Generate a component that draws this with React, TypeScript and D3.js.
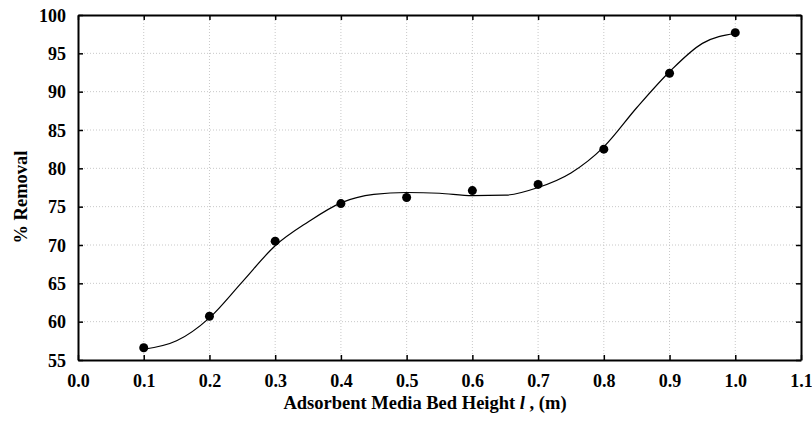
import React, { useEffect, useRef } from "react";
import * as d3 from "d3";

const heights = [0.1, 0.2, 0.3, 0.4, 0.5, 0.6, 0.7, 0.8, 0.9, 1.0];
const removal = [56.6, 60.7, 70.5, 75.4, 76.2, 77.1, 77.9, 82.5, 92.4, 97.7];

// fitted curve
const fitX = [0.1, 0.15, 0.2, 0.25, 0.3, 0.35, 0.4, 0.45, 0.5, 0.55, 0.6, 0.65, 0.7, 0.75, 0.8, 0.85, 0.9, 0.95, 1.0];
const fitY = [56.4, 57.5, 60.5, 65.2, 69.9, 73.0, 75.5, 76.6, 76.85, 76.75, 76.45, 76.5, 77.5, 79.4, 82.8, 87.9, 92.6, 96.3, 97.6];

const xTicks = [0, 0.1, 0.2, 0.3, 0.4, 0.5, 0.6, 0.7, 0.8, 0.9, 1.0, 1.1];
const yTicks = [55, 60, 65, 70, 75, 80, 85, 90, 95, 100];

export default function App() {
  const svgRef = useRef<SVGSVGElement>(null);

  useEffect(() => {
    const w = 812, h = 427;
    const m = { left: 78, right: 11, top: 15, bottom: 67 };
    const svg = d3.select(svgRef.current).attr("width", w).attr("height", h);
    svg.selectAll("*").remove();

    const x = d3.scaleLinear().domain([0, 1.1]).range([m.left, w - m.right]);
    const y = d3.scaleLinear().domain([55, 100]).range([h - m.bottom, m.top]);
    const font = '"Times New Roman", Times, "Liberation Serif", "DejaVu Serif", serif';

    // grid
    const grid = svg.append("g").attr("stroke", "#c8c8c8").attr("stroke-dasharray", "1,2");
    grid.selectAll(".gx").data(xTicks.slice(1, -1)).join("line")
      .attr("x1", d => x(d)).attr("x2", d => x(d))
      .attr("y1", y(55)).attr("y2", y(100));
    grid.selectAll(".gy").data(yTicks.slice(1, -1)).join("line")
      .attr("x1", x(0)).attr("x2", x(1.1))
      .attr("y1", d => y(d)).attr("y2", d => y(d));

    // axes with inward ticks
    const bottom = svg.append("g").attr("transform", `translate(0,${y(55)})`)
      .call(d3.axisBottom(x).tickValues(xTicks).tickSizeInner(-5).tickSizeOuter(0).tickPadding(14).tickFormat(d3.format(".1f")));
    const top = svg.append("g").attr("transform", `translate(0,${y(100)})`)
      .call(d3.axisTop(x).tickValues(xTicks).tickSizeInner(-5).tickSizeOuter(0).tickFormat(() => ""));
    const left = svg.append("g").attr("transform", `translate(${x(0)},0)`)
      .call(d3.axisLeft(y).tickValues(yTicks).tickSizeInner(-5).tickSizeOuter(0).tickPadding(12));
    const right = svg.append("g").attr("transform", `translate(${x(1.1)},0)`)
      .call(d3.axisRight(y).tickValues(yTicks).tickSizeInner(-5).tickSizeOuter(0).tickFormat(() => ""));
    [bottom, top, left, right].forEach(g => {
      g.attr("font-family", null).attr("font-size", null);
      g.select(".domain").attr("stroke", "#000").attr("stroke-width", 2);
      g.selectAll(".tick line").attr("stroke", "#000").attr("stroke-width", 1.5);
      g.selectAll("text").attr("font-weight", "bold").attr("font-size", 18).attr("fill", "#000");
    });
    left.selectAll(".tick text").attr("dy", "0.35em");

    // fitted curve
    const pts: [number, number][] = fitX.map((v, i) => [v, fitY[i]]);
    svg.append("path").datum(pts)
      .attr("fill", "none").attr("stroke", "#000").attr("stroke-width", 1.2)
      .attr("d", d3.line<[number, number]>().x(d => x(d[0])).y(d => y(d[1])).curve(d3.curveMonotoneX));

    // points
    svg.selectAll(".pt").data(heights).join("circle")
      .attr("cx", d => x(d)).attr("cy", (d, i) => y(removal[i]))
      .attr("r", 4.5).attr("fill", "#000");

    // titles
    const xt = svg.append("text").attr("x", 425).attr("y", 409)
      .attr("text-anchor", "middle")
      .attr("font-weight", "bold").attr("font-size", 18.5);
    xt.append("tspan").text("Adsorbent Media Bed Height ");
    xt.append("tspan").attr("font-style", "italic").text("l");
    xt.append("tspan").text(" , (m)");

    svg.append("text").attr("transform", `translate(27,197) rotate(-90)`)
      .attr("text-anchor", "middle")
      .attr("font-weight", "bold").attr("font-size", 18.5).text("% Removal");

    svg.style("font-family", font);
  }, []);

  return (
    <div style={{ position: "absolute", left: 0, top: 0 }}>
      <svg ref={svgRef}></svg>
    </div>
  );
}
